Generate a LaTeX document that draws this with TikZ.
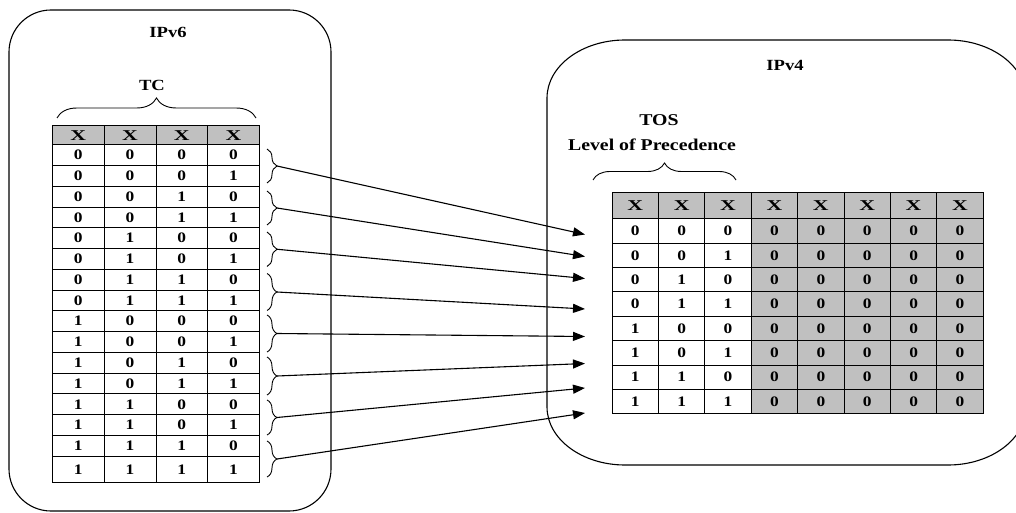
\documentclass[tikz,border=0pt]{standalone}
\usepackage{fontspec}
\setmainfont{Liberation Serif}[FakeStretch=1.2]
\newfontfamily\headfont{Liberation Serif}[FakeStretch=1.45]
\usetikzlibrary{decorations.pathreplacing,arrows.meta}
\definecolor{cellgray}{RGB}{192,192,192}
\begin{document}
\begin{tikzpicture}[x=1pt,y=-1pt,
  frame/.style={line width=1.1pt},
  lbl/.style={inner sep=0pt, font=\bfseries\fontsize{15.5}{18}\selectfont},
  biglbl/.style={inner sep=0pt, font=\bfseries\fontsize{16.5}{19}\selectfont},
  tcell/.style={draw, line width=0.9pt, inner sep=0pt, anchor=north west,
    font=\bfseries\fontsize{14.5}{16}\selectfont},
  hcell/.style={tcell, fill=cellgray, font=\headfont\bfseries\fontsize{15}{16}\selectfont},
  brc/.style={decorate, line width=0.9pt},
  arr/.style={line width=1.1pt, -{Triangle[length=12pt,width=9pt]}}]
\useasboundingbox (0,0) rectangle (1016,513);

% outer frames
\draw[frame, rounded corners=42pt] (9,10) rectangle (331,511);
\begin{scope}
  \clip (0,0) rectangle (1016,513);
  \draw[frame] (547,98) arc[start angle=180, end angle=270, x radius=78, y radius=58]
    -- (948,40) arc[start angle=270, end angle=360, x radius=78, y radius=58]
    -- (1026,407) arc[start angle=0, end angle=90, x radius=78, y radius=58]
    -- (625,465) arc[start angle=90, end angle=180, x radius=78, y radius=58]
    -- cycle;
\end{scope}

% titles
\node[lbl] (ipv6) at (168,32) {IPv6};
\node[lbl] (tc) at (152,85) {TC};
\node[lbl] (ipv4) at (785,65) {IPv4};
\node[biglbl] (tos) at (659,120) {TOS};
\node[biglbl] (lop) at (652,145) {Level of Precedence};

% braces over the field names
\draw[brc, decoration={brace, amplitude=20pt}] (57,118) -- (256,118);
\draw[brc, decoration={brace, amplitude=17pt}] (593,180) -- (736,180);

% IPv6 traffic class table
\foreach \c in {0,...,3}
  \node[hcell, minimum width=51.75pt, minimum height=19.3pt] (lh\c) at ({52+51.75*\c},125) {X};
\foreach \r in {0,...,15}{
  \pgfmathsetmacro\h{\r==15 ? 26.6 : 20.76}
  \foreach \c in {0,...,3}{
    \pgfmathtruncatemacro\bit{mod(floor(\r/2^(3-\c)),2)}
    \node[tcell, minimum width=51.75pt, minimum height=\h pt] (l\r-\c)
      at ({52+51.75*\c},{144.3+20.76*\r}) {\bit};
  }
}

% IPv4 type of service table
\foreach \c in {0,...,7}
  \node[hcell, minimum width=46.375pt, minimum height=26.6pt] (rh\c) at ({611.7+46.375*\c},191.7) {X};
\foreach \r in {0,...,7}{
  \foreach \c in {0,...,7}{
    \ifnum\c<3
      \pgfmathtruncatemacro\bit{mod(floor(\r/2^(2-\c)),2)}
      \def\fc{white}
    \else
      \def\bit{0}
      \def\fc{cellgray}
    \fi
    \node[tcell, fill=\fc, minimum width=46.375pt, minimum height=24.375pt] (r\r-\c)
      at ({611.7+46.375*\c},{218.3+24.375*\r}) {\bit};
  }
}

% pair braces and their tips
\foreach \k/\t/\b in {1/149/183, 2/191/225, 3/232/266.5, 4/273.5/310.5,
                      5/315/352, 6/357/395, 7/400/435, 8/441/477}{
  \draw[brc, decoration={brace, amplitude=10pt}] (267,\t) -- (267,\b);
  \coordinate (s\k) at (277,{(\t+\b)/2});
}

% mapping targets
\foreach \k/\y in {1/234.5, 2/256.5, 3/278.5, 4/309, 5/336.5, 6/363.5, 7/388, 8/413}
  \coordinate (e\k) at (585,\y);

\foreach \k in {1,...,8}
  \draw[arr] (s\k) -- (e\k);
\end{tikzpicture}
\end{document}
